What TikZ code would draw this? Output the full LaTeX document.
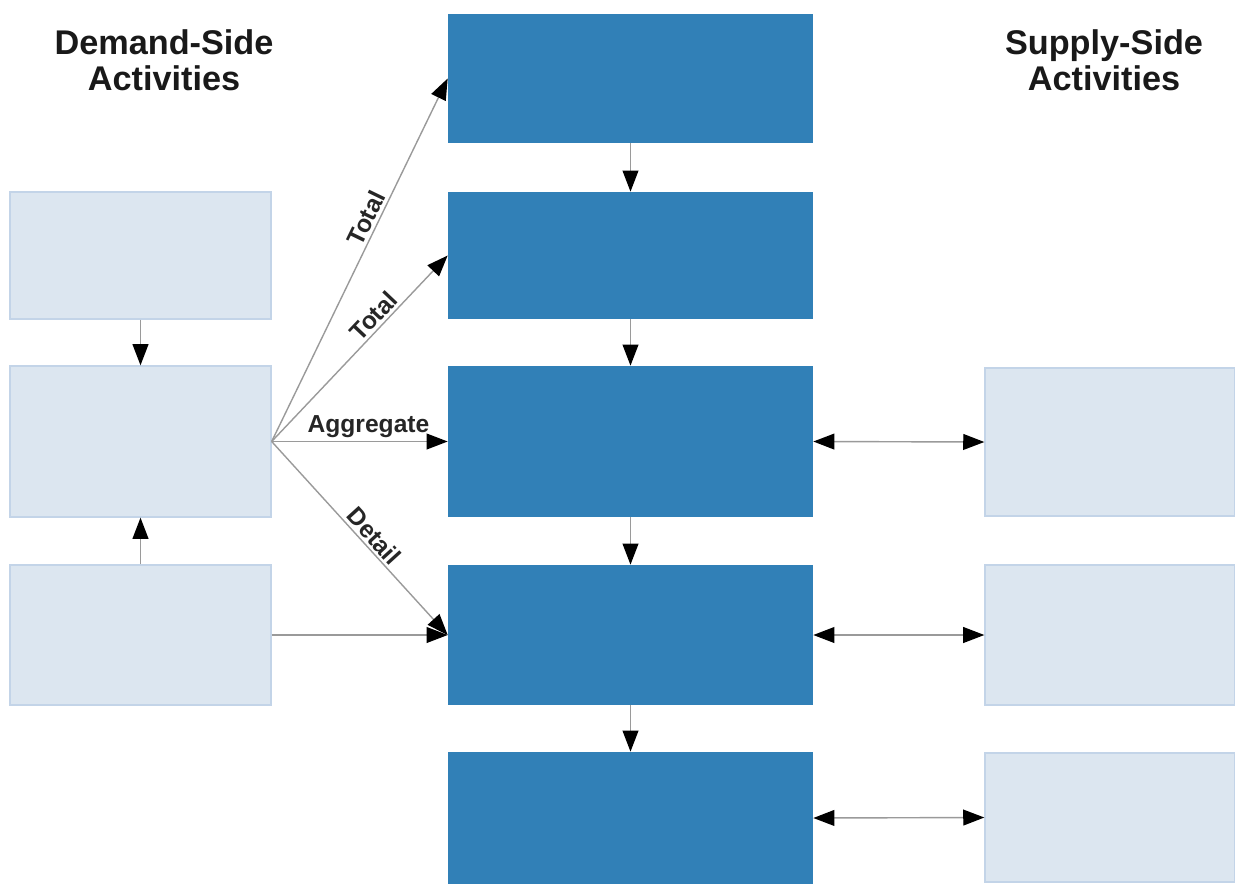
\documentclass[tikz,border=0pt]{standalone}
\usepackage{fontspec}
\setmainfont{Liberation Sans}
\usetikzlibrary{arrows.meta}
\definecolor{dblue}{HTML}{3180B7}
\definecolor{lfill}{HTML}{DCE6F0}
\definecolor{ledge}{HTML}{C3D4E8}
\definecolor{lgray}{HTML}{9A9A9A}
\tikzset{
  lbox/.style={rectangle, fill=lfill, draw=ledge, line width=0.8pt, inner sep=0pt},
  cbox/.style={rectangle, fill=dblue, draw=none, inner sep=0pt, minimum width=7.3cm},
  conn/.style={draw=lgray, line width=0.8pt, -{Triangle[length=12pt,width=9pt,black]}},
  dconn/.style={draw=lgray, line width=0.8pt, {Triangle[length=12pt,width=9pt,black]}-{Triangle[length=12pt,width=9pt,black]}},
  hdr/.style={font=\fontsize{19.5}{20.5}\selectfont\bfseries, align=center, text=black!90},
  lbl/.style={font=\fontsize{14}{16}\selectfont\bfseries, text=black!85, inner sep=1.5pt}
}
\begin{document}
\begin{tikzpicture}[x=0.02cm, y=-0.02cm]
\useasboundingbox (0,0) rectangle (1235,887);
% headers
\node[hdr] (dh) at (164,60) {Demand-Side\\Activities};
\node[hdr] (sh) at (1104,60) {Supply-Side\\Activities};
% left boxes
\node[lbox, minimum width=5.22cm, minimum height=2.54cm] (L1) at (140.5,255.5) {};
\node[lbox, minimum width=5.22cm, minimum height=3.02cm] (L2) at (140.5,441.5) {};
\node[lbox, minimum width=5.22cm, minimum height=2.8cm] (L3) at (140.5,635) {};
% center boxes
\node[cbox, minimum height=2.58cm] (C1) at (630.5,78.5) {};
\node[cbox, minimum height=2.54cm] (C2) at (630.5,255.5) {};
\node[cbox, minimum height=3.02cm] (C3) at (630.5,441.5) {};
\node[cbox, minimum height=2.8cm] (C4) at (630.5,635) {};
\node[cbox, minimum height=2.64cm] (C5) at (630.5,818) {};
% right boxes
\node[lbox, minimum width=5.0cm, minimum height=2.96cm] (R1) at (1110,442) {};
\node[lbox, minimum width=5.0cm, minimum height=2.8cm] (R2) at (1110,635) {};
\node[lbox, minimum width=5.0cm, minimum height=2.58cm] (R3) at (1110,817.5) {};
% center chain
\draw[conn] (C1) -- (C2);
\draw[conn] (C2) -- (C3);
\draw[conn] (C3) -- (C4);
\draw[conn] (C4) -- (C5);
% left chain
\draw[conn] (L1) -- (L2);
\draw[conn] (L3) -- (L2);
% fan
\draw[conn] (L2.east) -- node[lbl, sloped, above, pos=0.6] {Total} (C1.west);
\draw[conn] (L2.east) -- node[lbl, sloped, above, pos=0.63] {Total} (C2.west);
\draw[conn] (L2.east) -- node[lbl, above, pos=0.55] {Aggregate} (C3.west);
\draw[conn] (L2.east) -- node[lbl, sloped, above, pos=0.53] {Detail} (C4.west);
\draw[conn] (L3.east) -- (C4.west);
% supply links
\draw[dconn] (C3.east) -- (R1.west);
\draw[dconn] (C4.east) -- (R2.west);
\draw[dconn] (C5.east) -- (R3.west);
\end{tikzpicture}
\end{document}
